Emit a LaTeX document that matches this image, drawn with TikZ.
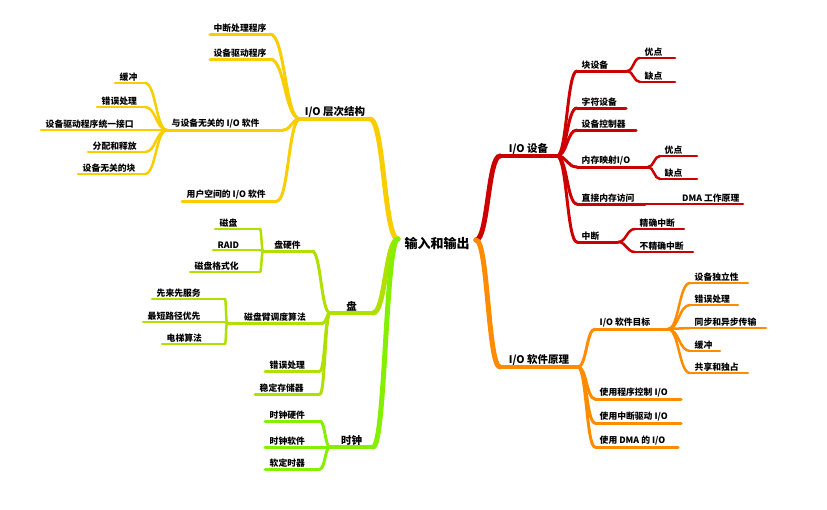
\documentclass[tikz,border=0pt]{standalone}
\usepackage{fontspec}
\setmainfont{Noto Sans CJK SC}
\usetikzlibrary{calc}
\definecolor{yel}{HTML}{F8CE00}
\definecolor{grnA}{HTML}{B0E000}
\definecolor{grnB}{HTML}{84F000}
\definecolor{cRed}{HTML}{CC0000}
\definecolor{ora}{HTML}{FF8C00}
\newcommand\mainf{\fontsize{10.5}{12}\selectfont}
% a topic: underline from xl to xr at y, text above it
\newcommand\topic[8][w]{%
  \coordinate (#2-l) at (#3,#5); \coordinate (#2-r) at (#4,#5);
  \coordinate (#2-c) at ($(#2-l)!0.5!(#2-r)$);
  \coordinate (#2-w) at ($(#2-l)+(3,0)$);
  \coordinate (#2-e) at ($(#2-r)+(-2,0)$);
  \draw[#6,line width=#7] (#2-l) -- (#2-r);
  \node[lbl,anc-#1] (#2) at (#2-#1) {#8};}
% a curved branch from one end to another
\newcommand\branch[4]{%
  \coordinate (bm) at ($(#3)!0.5!(#4)$);
  \draw[#1,line width=#2] (#3) .. controls (bm |- #3) and (bm |- #4) .. (#4);}
\tikzset{
  lbl/.style={inner sep=1.5pt, font=\bfseries\fontsize{8.8}{10}\selectfont},
  anc-c/.style={anchor=south},
  anc-w/.style={anchor=south west},
  anc-e/.style={anchor=south east},
  every path/.style={line cap=round}
}
\begin{document}
\begin{tikzpicture}[x=1pt,y=-1pt]
\useasboundingbox (0,0) rectangle (827,509);
\node[font=\bfseries\fontsize{13}{15}\selectfont, inner sep=1pt] (root) at (437,243) {输入和输出};
\coordinate (root-l) at (398,239);
\coordinate (root-r) at (476,240);

% I/O hierarchy
\topic[c]{hier}{300}{370}{119}{yel}{4}{\mainf I/O 层次结构}
\branch{yel}{5}{root-l}{hier-r}
\topic[c]{intr}{210}{270}{34}{yel}{3}{中断处理程序}
\topic[c]{drv}{210}{270}{59}{yel}{3}{设备驱动程序}
\topic{indep}{167}{283}{130}{yel}{3}{与设备无关的 I/O 软件}
\topic{user}{182}{277}{201}{yel}{3}{用户空间的 I/O 软件}
\foreach \n in {intr,drv,indep,user} {\branch{yel}{3}{hier-l}{\n-r}}
\topic{buf}{115}{145}{83}{yel}{2.5}{缓冲}
\topic{err}{97}{145}{107}{yel}{2.5}{错误处理}
\topic{unif}{41}{167}{130}{yel}{2.5}{设备驱动程序统一接口}
\topic{alloc}{88}{145}{152}{yel}{2.5}{分配和释放}
\topic{blk}{78}{145}{174}{yel}{2.5}{设备无关的块}
\foreach \n in {buf,err,alloc,blk} {\branch{yel}{2.5}{indep-l}{\n-r}}

% disk
\topic[c]{disk}{330}{373}{313}{grnA}{4}{\mainf 盘}
\branch{grnA}{5}{root-l}{disk-r}
\topic[c]{hw}{263}{312}{251}{grnA}{3}{盘硬件}
\topic[c]{sched}{227}{323}{323}{grnA}{3}{磁盘臂调度算法}
\topic{derr}{265}{320}{371}{grnA}{3}{错误处理}
\topic{stab}{255}{320}{394}{grnA}{3}{稳定存储器}
\foreach \n in {hw,sched,derr,stab} {\branch{grnA}{3}{disk-l}{\n-r}}
\topic{plate}{215}{260}{229}{grnA}{2.5}{磁盘}
\topic{raid}{213}{260}{250}{grnA}{2.5}{RAID}
\topic{fmt}{190}{260}{272}{grnA}{2.5}{磁盘格式化}
\foreach \n in {plate,raid,fmt} {\branch{grnA}{2.5}{hw-l}{\n-r}}
\topic{fcfs}{152}{225}{299}{grnA}{2.5}{先来先服务}
\topic{sstf}{143}{225}{322}{grnA}{2.5}{最短路径优先}
\topic{elev}{162}{225}{344}{grnA}{2.5}{电梯算法}
\foreach \n in {fcfs,sstf,elev} {\branch{grnA}{2.5}{sched-l}{\n-r}}

% clock
\topic[c]{clock}{330}{373}{447}{grnB}{4}{\mainf 时钟}
\branch{grnB}{5}{root-l}{clock-r}
\topic{chw}{265}{320}{421}{grnB}{3}{时钟硬件}
\topic{csw}{265}{320}{447}{grnB}{3}{时钟软件}
\topic{soft}{265}{320}{469}{grnB}{3}{软定时器}
\foreach \n in {chw,csw,soft} {\branch{grnB}{3}{clock-l}{\n-r}}

% I/O devices
\topic[c]{dev}{500}{557}{156}{cRed}{4}{\mainf I/O 设备}
\branch{cRed}{5}{root-r}{dev-l}
\topic{blkd}{577}{627}{71}{cRed}{3}{块设备}
\topic{chr}{577}{626}{108}{cRed}{3}{字符设备}
\topic{ctl}{577}{636}{130}{cRed}{3}{设备控制器}
\topic{mmio}{577}{648}{167}{cRed}{3}{内存映射I/O}
\topic{dma}{577}{645}{204}{cRed}{3}{直接内存访问}
\topic{irq}{577}{618}{242}{cRed}{3}{中断}
\foreach \n in {blkd,chr,ctl,mmio,dma,irq} {\branch{cRed}{3}{dev-r}{\n-l}}
\topic{pro1}{640}{675}{58}{cRed}{2.5}{优点}
\topic{con1}{640}{675}{82}{cRed}{2.5}{缺点}
\foreach \n in {pro1,con1} {\branch{cRed}{2.5}{blkd-r}{\n-l}}
\topic{pro2}{660}{697}{156}{cRed}{2.5}{优点}
\topic{con2}{660}{697}{179}{cRed}{2.5}{缺点}
\foreach \n in {pro2,con2} {\branch{cRed}{2.5}{mmio-r}{\n-l}}
\topic[e]{dmap}{645}{743}{204}{cRed}{2.5}{DMA 工作原理}
\topic{prec}{635}{684}{229}{cRed}{2.5}{精确中断}
\topic{impr}{635}{693}{252}{cRed}{2.5}{不精确中断}
\foreach \n in {prec,impr} {\branch{cRed}{2.5}{irq-r}{\n-l}}

% I/O software
\topic[c]{sw}{500}{578}{367}{ora}{4}{\mainf I/O 软件原理}
\branch{ora}{5}{root-r}{sw-l}
\topic{goal}{595}{668}{329}{ora}{3}{I/O 软件目标}
\topic{pio}{595}{681}{399}{ora}{3}{使用程序控制 I/O}
\topic{iio}{595}{681}{423}{ora}{3}{使用中断驱动 I/O}
\topic{dmaio}{595}{678}{447}{ora}{3}{使用 DMA 的 I/O}
\foreach \n in {goal,pio,iio,dmaio} {\branch{ora}{3}{sw-r}{\n-l}}
\topic{g1}{690}{748}{283}{ora}{2.5}{设备独立性}
\topic{g2}{690}{738}{305}{ora}{2.5}{错误处理}
\topic{g3}{690}{766}{328}{ora}{2.5}{同步和异步传输}
\topic{g4}{690}{720}{351}{ora}{2.5}{缓冲}
\topic{g5}{690}{748}{373}{ora}{2.5}{共享和独占}
\foreach \n in {g1,g2,g3,g4,g5} {\branch{ora}{2.5}{goal-r}{\n-l}}
\end{tikzpicture}
\end{document}
